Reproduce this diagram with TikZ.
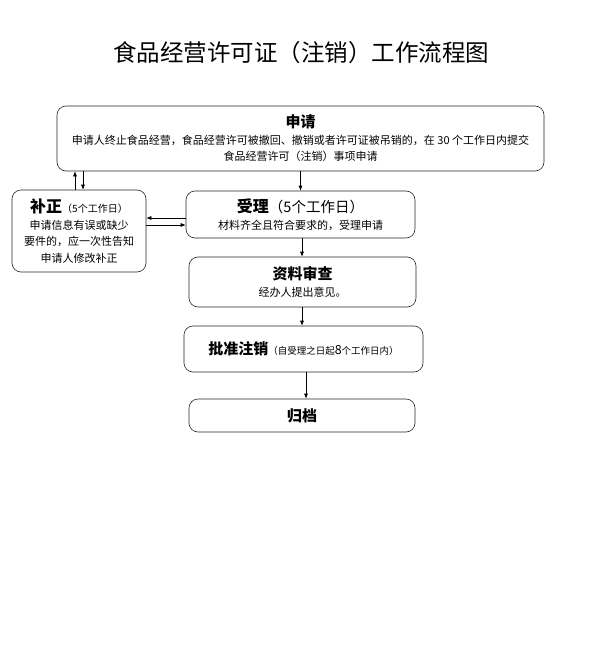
\documentclass[tikz,border=0pt]{standalone}
\usepackage{fontspec}
\setmainfont{Noto Sans CJK SC}
\usetikzlibrary{arrows.meta,positioning}

\begin{document}
\begin{tikzpicture}[x=1pt,y=-1pt,
  every node/.style={font=\fontsize{11}{16.5}\selectfont,align=center},
  box/.style={draw=black!85,line width=.6pt,rounded corners=9pt,fill=white,inner sep=0pt},
  arr/.style={-{Latex[length=5pt,width=4pt]},line width=.6pt}]
\useasboundingbox (0,0) rectangle (594,669);
\node(title) at (301,53){\fontsize{23.5}{28}\selectfont 食品经营许可证（注销）工作流程图};
% boxes
\node[box,minimum width=487pt,minimum height=65pt](sq) at (300.5,138.5){{\fontsize{15}{18}\selectfont\bfseries 申请}\\申请人终止食品经营，食品经营许可被撤回、撤销或者许可证被吊销的，在 30 个工作日内提交\\食品经营许可（注销）事项申请};
\node[box,minimum width=134pt,minimum height=82pt](bz) at (79,231){{\fontsize{16}{18}\selectfont\bfseries 补正}{\fontsize{10}{12}\selectfont（5个工作日）}\\申请信息有误或缺少\\要件的，应一次性告知\\申请人修改补正};
\node[box,minimum width=229pt,minimum height=47pt](sl) at (300.5,214.5){{\fontsize{16}{18}\selectfont\bfseries 受理}{\fontsize{14.5}{18}\selectfont（5个工作日）}\\材料齐全且符合要求的，受理申请};
\node[box,minimum width=227pt,minimum height=50pt](zl) at (302.5,282){{\fontsize{15}{18}\selectfont\bfseries 资料审查}\\经办人提出意见。};
\node[box,minimum width=239pt,minimum height=46pt](pz) at (303.5,349){{\fontsize{15}{18}\selectfont\bfseries 批准注销}{\fontsize{9.5}{12}\selectfont（自受理之日起{\fontsize{12.5}{12}\selectfont 8}个工作日内）}};
\node[box,minimum width=226pt,minimum height=33pt](gd) at (302,415.5){\fontsize{15}{18}\selectfont\bfseries 归档};
% arrows
\draw[arr](sq.south -| sl.north)--(sl.north);
\draw[arr]([xshift=-4pt]bz.north)--([xshift=-4pt]bz.north |- sq.south);
\draw[arr]([xshift=4pt]bz.north |- sq.south)--([xshift=4pt]bz.north);
\draw[arr]([yshift=-3.5pt]sl.west)--([yshift=-3.5pt]sl.west -| bz.east);
\draw[arr]([yshift=-10.5pt]sl.west -| bz.east)--([yshift=-10.5pt]sl.west);
\draw[arr]([xshift=1.5pt]sl.south)--([xshift=1.5pt]sl.south |- zl.north);
\draw[arr](zl.south -| 302,0)--(pz.north -| 302,0);
\draw[arr]([xshift=4pt]gd.north |- pz.south)--([xshift=4pt]gd.north);
\end{tikzpicture}
\end{document}
